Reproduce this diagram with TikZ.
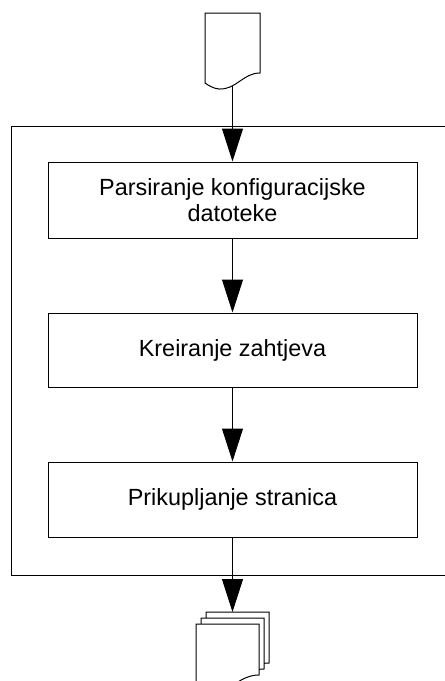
\documentclass[tikz,border=0pt]{standalone}
\usepackage{fontspec}
\setmainfont{Liberation Sans}
\usetikzlibrary{arrows.meta}
\begin{document}
\begin{tikzpicture}[x=1pt,y=-1pt,
  line width=1pt,
  stepbox/.style={draw=black, fill=white, minimum width=369pt, align=center,
    inner sep=0pt, font=\fontsize{23.4}{26}\selectfont},
  docshape/.style={draw=black, fill=white, line join=miter},
  frameline/.style={draw=black},
  flow/.style={draw=black, -{Triangle[length=33pt,width=21pt]}}]
  \useasboundingbox (0,0) rectangle (445,681);
  \clip (0,0) rectangle (445,681);

  % surrounding process frame (runs past the right edge)
  \draw[frameline] (11,126) rectangle (470,575);

  % input document
  \draw[docshape] (205,13) -- (260,13) -- (260,73)
    .. controls (243,73) and (236,90) .. (219,89)
    .. controls (213,88.5) and (208,85) .. (205,83) -- cycle;
  \coordinate (srcdoc) at (232.5,86);

  % processing steps
  \node[stepbox, minimum height=76pt] (parse) at (232.5,200)
    {Parsiranje konfiguracijske\\datoteke};
  \node[stepbox, minimum height=74pt] (request) at (232.5,350)
    {Kreiranje zahtjeva};
  \node[stepbox, minimum height=75pt] (collect) at (232.5,499.5)
    {Prikupljanje stranica};

  % stack of output documents (back to front)
  \draw[docshape] (206,612) -- (269,612) -- (269,663)
    .. controls (249.5,663) and (241.5,680) .. (222,679)
    .. controls (215,678.5) and (209.5,675) .. (206,673) -- cycle;
  \draw[docshape] (201,618) -- (264,618) -- (264,669)
    .. controls (244.5,669) and (236.5,686) .. (217,685)
    .. controls (210,684.5) and (204.5,681) .. (201,679) -- cycle;
  \draw[docshape] (196,624) -- (259,624) -- (259,675)
    .. controls (239.5,675) and (231.5,692) .. (212,691)
    .. controls (205,690.5) and (199.5,687) .. (196,685) -- cycle;
  \coordinate (outdocs) at (232.5,612);

  % flow connectors
  \draw[flow] (srcdoc) -- (parse.north);
  \draw[flow] (parse.south) -- (request.north);
  \draw[flow] (request.south) -- (collect.north);
  \draw[flow] (collect.south) -- (outdocs);
\end{tikzpicture}
\end{document}
